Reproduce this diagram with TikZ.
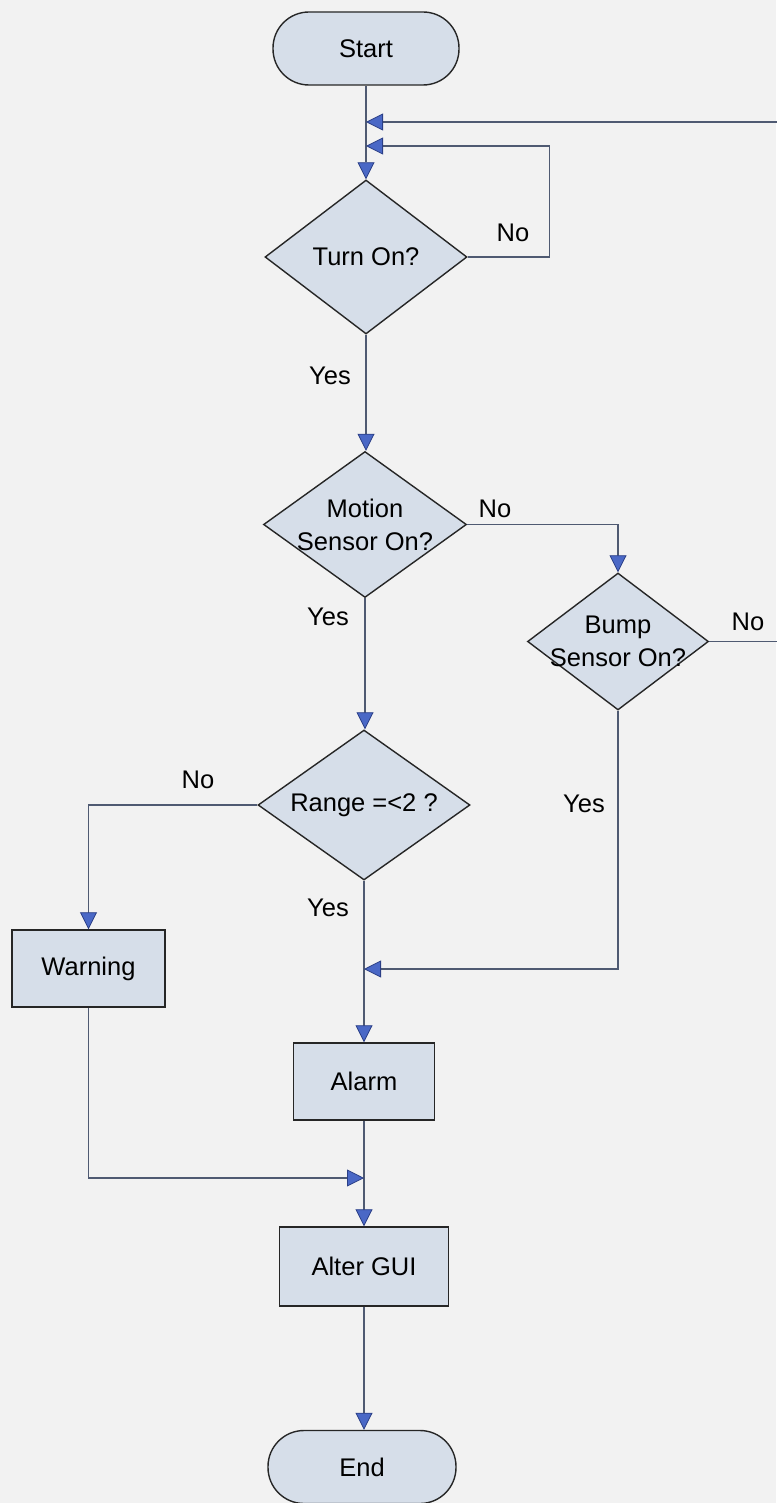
\documentclass[tikz,border=0pt]{standalone}
\usepackage{fontspec}
\setmainfont{Liberation Sans}
\usetikzlibrary{shapes.geometric,arrows.meta}

\definecolor{paper}{HTML}{F2F2F2}
\definecolor{boxfill}{HTML}{D6DEE9}
\definecolor{boxline}{HTML}{262626}
\definecolor{wire}{HTML}{4F5A72}
\definecolor{tipfill}{HTML}{4A68C6}
\definecolor{tipline}{HTML}{2B3F86}

\tikzset{
  every node/.style={font=\fontsize{25.5}{33}\selectfont},
  term/.style={draw=boxline, fill=boxfill, line width=1.4pt, rectangle,
    rounded corners=36pt, inner sep=0pt},
  proc/.style={draw=boxline, fill=boxfill, line width=1.4pt, rectangle, inner sep=0pt},
  decision/.style={draw=boxline, fill=boxfill, line width=1.4pt, diamond, inner sep=0pt},
  dtext/.style={align=center, inner sep=0pt, font=\fontsize{25.5}{33}\selectfont},
  lbl/.style={inner sep=0pt},
  wireline/.style={draw=wire, line width=1.2pt},
  flow/.style={wireline, -{Triangle[length=17pt,width=17pt,color=tipline,fill=tipfill,line width=0.8pt]}},
}

\begin{document}
\begin{tikzpicture}[x=1pt, y=-1pt]
  \useasboundingbox (0,0) rectangle (776,1503);
  \fill[paper] (0,0) rectangle (776,1503);

  % terminals and process boxes
  \node[term, minimum width=186pt, minimum height=73pt] (start) at (366,48.5) {Start};
  \node[proc, minimum width=153pt, minimum height=77pt] (warning) at (88.5,968.5) {Warning};
  \node[proc, minimum width=141pt, minimum height=77pt] (alarm) at (364,1081.5) {Alarm};
  \node[proc, minimum width=169pt, minimum height=79pt] (alter) at (364,1266.5) {Alter GUI};
  \node[term, minimum width=188pt, minimum height=73pt] (stop) at (362,1467) {End};

  % decisions (text placed as centred labels so it may overhang the outline)
  \node[decision, minimum width=202pt, minimum height=154pt,
        label={[dtext]center:Turn On?}] (turnon) at (366,257) {};
  \node[decision, minimum width=203pt, minimum height=146pt,
        label={[dtext]center:Motion\\Sensor On?}] (motion) at (365,524.5) {};
  \node[decision, minimum width=181pt, minimum height=137pt,
        label={[dtext]center:Bump\\Sensor On?}] (bump) at (618,641.5) {};
  \node[decision, minimum width=212pt, minimum height=150pt,
        label={[dtext]center:Range =<2 ?}] (range) at (364,805) {};

  % junction points on the main column
  \coordinate (jbump) at (366,122);
  \coordinate (jturn) at (366,146);
  \coordinate (jyes) at (364,969);
  \coordinate (jwarn) at (364,1178);

  % main column
  \draw[wireline] (start.south) -- (jbump);
  \draw[flow] (jbump) -- (turnon.north);
  \draw[flow] (turnon.south) -- (turnon.south |- motion.north);
  \draw[flow] (motion.south) -- (motion.south |- range.north);
  \draw[wireline] (range.south) -- (jyes);
  \draw[flow] (jyes) -- (alarm.north);
  \draw[wireline] (alarm.south) -- (jwarn);
  \draw[flow] (jwarn) -- (alter.north);
  \draw[flow] (alter.south) -- (alter.south |- stop.north);

  % branches
  \draw[flow] (turnon.east) -- ++(82,0) |- (jturn);
  \draw[flow] (motion.east) -| (bump.north);
  \draw[flow] (bump.east) -- ++(200,0) |- (jbump);
  \draw[flow] (bump.south) |- (jyes);
  \draw[flow] (range.west) -| (warning.north);
  \draw[flow] (warning.south) |- (jwarn);

  % branch labels
  \node[lbl] (noturn) at (513,233) {No};
  \node[lbl] (yesturn) at (330,376) {Yes};
  \node[lbl] (nomotion) at (495,509) {No};
  \node[lbl] (yesmotion) at (328,617) {Yes};
  \node[lbl] (nobump) at (748,622) {No};
  \node[lbl] (yesbump) at (584,804) {Yes};
  \node[lbl] (norange) at (198,780) {No};
  \node[lbl] (yesrange) at (328,908) {Yes};
\end{tikzpicture}
\end{document}
